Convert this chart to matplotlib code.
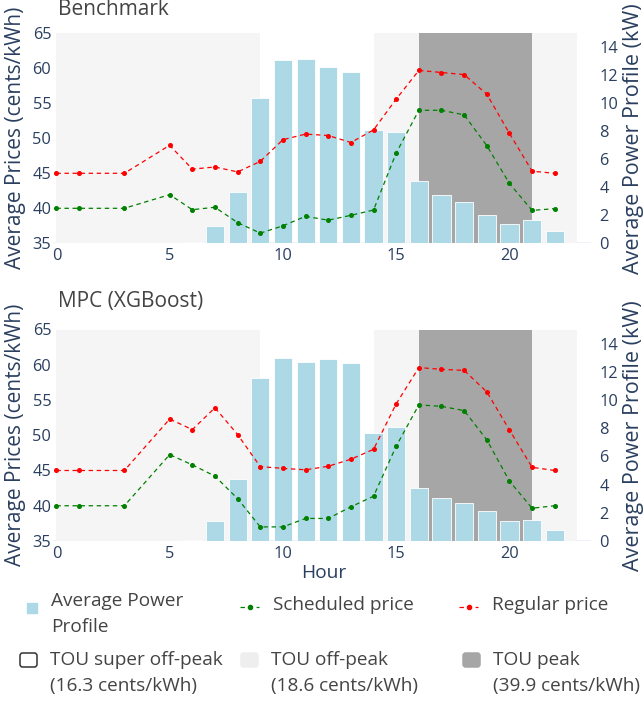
import matplotlib
matplotlib.use('Agg')
import matplotlib.pyplot as plt
from matplotlib.patches import Rectangle, FancyBboxPatch
from matplotlib.lines import Line2D

plt.rcParams['font.family'] = ['Open Sans', 'DejaVu Sans']
plt.rcParams['lines.scale_dashes'] = False

# hours
bar_hours = [0, 1, 2, 3, 4, 5, 6, 7, 8, 9, 10, 11, 12, 13, 14, 15, 16, 17, 18, 19, 20, 21, 22]
line_hours = [0, 1, 3, 5, 6, 7, 8, 9, 10, 11, 12, 13, 14, 15, 16, 17, 18, 19, 20, 21, 22]

# Benchmark
bench_power = [0, 0, 0, 0, 0, 0, 0.1, 1.24, 3.67, 10.35, 13.07, 13.19, 12.59, 12.26,
               8.06, 7.94, 4.46, 3.43, 2.93, 2.03, 1.38, 1.67, 0.86]
bench_regular = [45, 45, 45, 49.0, 45.6, 45.9, 45.2, 46.7, 49.8, 50.6, 50.4, 49.4,
                 51.2, 55.6, 59.7, 59.4, 59.1, 56.3, 50.7, 45.3, 45.0]
bench_sched = [40, 40, 40, 41.95, 39.8, 40.15, 37.95, 36.45, 37.5, 38.85, 38.3, 39.0,
               39.75, 47.9, 54.0, 54.0, 53.35, 48.95, 43.55, 39.7, 39.95]

# MPC (XGBoost)
mpc_power = [0, 0, 0, 0, 0, 0, 0.1, 1.43, 4.41, 11.57, 13.0, 12.71, 12.9, 12.64,
             7.68, 8.08, 3.77, 3.05, 2.72, 2.15, 1.43, 1.48, 0.81]
mpc_regular = [45, 45, 45, 52.3, 50.8, 53.9, 50.1, 45.55, 45.3, 45.1, 45.6, 46.6,
               48.0, 54.45, 59.6, 59.35, 59.2, 56.15, 50.75, 45.45, 45.0]
mpc_sched = [40, 40, 40, 47.25, 45.8, 44.2, 41.0, 37.0, 37.0, 38.2, 38.2, 39.85,
             41.35, 48.45, 54.3, 54.1, 53.5, 49.35, 43.5, 39.65, 40.0]

panels = [('Benchmark', bench_power, bench_regular, bench_sched),
          ('MPC (XGBoost)', mpc_power, mpc_regular, mpc_sched)]

# TOU periods (start, end)
offpeak_spans = [(0, 9), (14, 16), (21, 23)]
peak_spans = [(16, 21)]

W, H = 644, 702
TXT = '#2a3f5f'
DARK = '#444444'
LIGHT_GRAY = '#f5f5f5'
DARK_GRAY = '#a6a6a6'
BAR_COL = '#add8e6'

fig = plt.figure(figsize=(W / 100, H / 100), dpi=100)

def fx(px):
    return px / W

def fy(py):
    return 1 - py / H

# plot area tops / bottoms in pixels
areas = [(33.3, 243.3), (329.5, 541.0)]
title_base = [15, 307.5]

for (title, power, regular, sched), (top, bot), tb in zip(panels, areas, title_base):
    ax = fig.add_axes([fx(53), fy(bot), fx(591) - fx(53), (bot - top) / H])
    ax2 = ax.twinx()

    # bars + shading on ax (right scale)
    ax.axhline(0, color='#ebf0f8', lw=2, zorder=0)
    for a, b in offpeak_spans:
        ax.axvspan(a, b, color=LIGHT_GRAY, lw=0, zorder=1)
    for a, b in peak_spans:
        ax.axvspan(a, b, color=DARK_GRAY, lw=0, zorder=1)
    ax.bar(bar_hours, power, width=0.8, color=BAR_COL, edgecolor='white',
           linewidth=0.6, zorder=2)
    ax.set_ylim(0, 15)
    ax.set_yticks([0, 2, 4, 6, 8, 10, 12, 14])
    ax.yaxis.tick_right()
    ax.yaxis.set_label_position('right')

    # prices on ax2 (left scale)
    ax2.plot(line_hours, sched, color='green', lw=0.9, ls=(0, (3.2, 2.6)),
             marker='o', ms=2.6, mec='green', mfc='green')
    ax2.plot(line_hours, regular, color='red', lw=0.9, ls=(0, (3.2, 2.6)),
             marker='o', ms=2.6, mec='red', mfc='red')
    ax2.set_ylim(35, 65)
    ax2.set_yticks([35, 40, 45, 50, 55, 60, 65])
    ax2.yaxis.tick_left()
    ax2.yaxis.set_label_position('left')

    ax.set_xlim(-0.15, 23.6)
    ax.set_xticks([0, 5, 10, 15, 20])

    for a in (ax, ax2):
        for s in a.spines.values():
            s.set_visible(False)
        a.tick_params(length=0, labelsize=11.8, labelcolor=TXT)
    ax.tick_params(axis='y', pad=6)
    ax2.tick_params(axis='y', pad=1.2)
    ax.tick_params(axis='x', pad=3.5)

    mid = (top + bot) / 2
    fig.text(fx(16), fy(mid), 'Average Prices (cents/kWh)', rotation=90,
             ha='center', va='center', fontsize=15, color=TXT)
    fig.text(fx(633), fy(mid), 'Average Power Profile (kW)', rotation=90,
             ha='center', va='center', fontsize=15.5, color=TXT)
    fig.text(fx(58), fy(tb), title, ha='left', va='baseline', fontsize=15,
             color=DARK)

fig.text(fx(324), fy(573), 'Hour', ha='center', va='center', fontsize=13.8,
         color=TXT)

# legend, drawn by hand to keep the plotly-like grid
LFS = 13.7
fig.patches.append(Rectangle((fx(27), fy(613)), fx(10), 10 / H, color=BAR_COL,
                             transform=fig.transFigure))
fig.text(fx(51), fy(601.5), 'Average Power', ha='left', va='center',
         fontsize=LFS, color=DARK)
fig.text(fx(51), fy(626.5), 'Profile', ha='left', va='center', fontsize=LFS,
         color=DARK)

for x0, col, lab in [(240, 'green', 'Scheduled price'), (459, 'red', 'Regular price')]:
    fig.lines.append(Line2D([fx(x0), fx(x0 + 19)], [fy(607), fy(607)], color=col,
                            lw=0.9, ls=(0, (3.2, 2.6)), transform=fig.transFigure))
    fig.lines.append(Line2D([fx(x0 + 9.5)], [fy(607)], color=col, marker='o',
                            ms=3, transform=fig.transFigure))
    fig.text(fx(x0 + 33), fy(605), lab, ha='left', va='center', fontsize=LFS,
             color=DARK)

tou = [(19, 'white', '#333333', 'TOU super off-peak', '(16.3 cents/kWh)'),
       (240, '#eeeeee', '#eeeeee', 'TOU off-peak', '(18.6 cents/kWh)'),
       (462, DARK_GRAY, DARK_GRAY, 'TOU peak', '(39.9 cents/kWh)')]
for x0, fc, ec, l1, l2 in tou:
    fig.patches.append(FancyBboxPatch((fx(x0 + 1), fy(667)), fx(17), 14 / H,
                                      boxstyle='round,pad=0,rounding_size=0.004',
                                      fc=fc, ec=ec, lw=1.1,
                                      transform=fig.transFigure))
    fig.text(fx(x0 + 31), fy(660), l1, ha='left', va='center', fontsize=LFS,
             color=DARK)
    fig.text(fx(x0 + 31), fy(686.5), l2, ha='left', va='center', fontsize=LFS,
             color=DARK)

fig.savefig('out.png', dpi=100)
